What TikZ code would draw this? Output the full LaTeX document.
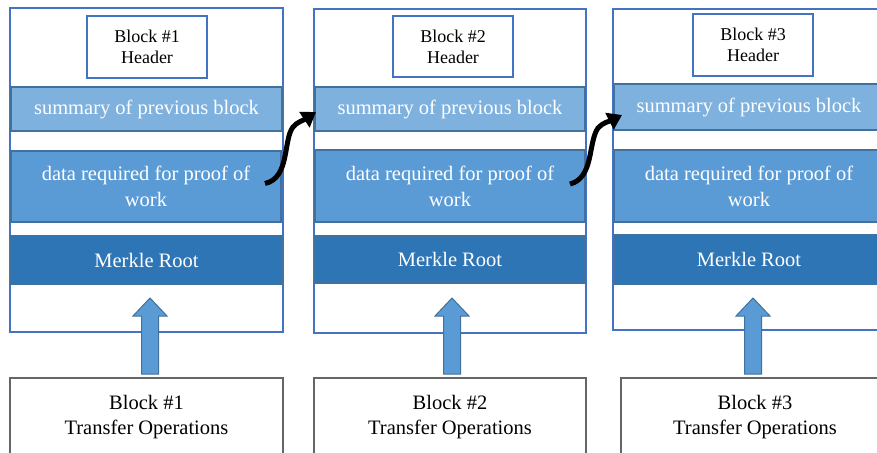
\documentclass[tikz,border=0pt]{standalone}
\usepackage{fontspec}
\setmainfont{Liberation Serif}
\usetikzlibrary{arrows.meta,calc}
\definecolor{outerblue}{HTML}{4472C4}
\definecolor{bandedge}{HTML}{41719C}
\definecolor{summfill}{HTML}{7EB1DD}
\definecolor{datafill}{HTML}{5B9BD5}
\definecolor{merkfill}{HTML}{2E75B6}
\definecolor{boxgray}{HTML}{666666}
\begin{document}
\begin{tikzpicture}[x=1pt,y=-1pt,
  blockframe/.style={draw=outerblue,line width=1.8pt,fill=white,inner sep=0pt,outer sep=0pt},
  headerbox/.style={draw=outerblue,line width=1.8pt,fill=white,inner sep=0pt,outer sep=0pt,align=center,
     font=\fontsize{18}{21}\selectfont,minimum width=120pt},
  band/.style={draw=bandedge,line width=1.2pt,inner sep=0pt,outer sep=0pt,text=white,align=center,
     font=\fontsize{20.5}{26}\selectfont},
  summband/.style={band,fill=summfill},
  databand/.style={band,fill=datafill},
  merkband/.style={band,fill=merkfill},
  txbox/.style={draw=boxgray,line width=1.8pt,fill=white,inner sep=0pt,outer sep=0pt,align=center,
     font=\fontsize{20.5}{25}\selectfont},
  uparrow/.style={draw=bandedge,fill=datafill,line width=1pt},
  chainarrow/.style={draw=black,line width=5pt,-{Triangle[length=14pt,width=18pt]}}]
\useasboundingbox (0,0) rectangle (877,452);
\clip (0,0) rectangle (877,452);

% ---------- Block 1 ----------
\node[blockframe,minimum width=273pt,minimum height=324pt] (frame1) at (146.5,170) {};
\node[headerbox,minimum height=62pt] (head1) at (147,47) {Block \#1\\Header};
\node[summband,minimum width=271pt,minimum height=44pt] (summ1) at (146.5,109) {summary of previous block};
\node[databand,minimum width=270pt,minimum height=71pt] (data1) at (146,186.5) {data required for proof of\\work};
\node[merkband,minimum width=271pt,minimum height=49pt] (merk1) at (146.5,260) {Merkle Root};
\node[txbox,minimum width=273pt,minimum height=78pt] (tx1) at (146.5,417) {Block \#1\\Transfer Operations};

% ---------- Block 2 ----------
\node[blockframe,minimum width=272pt,minimum height=324pt] (frame2) at (450,171) {};
\node[headerbox,minimum height=61pt] (head2) at (453,46.5) {Block \#2\\Header};
\node[summband,minimum width=270pt,minimum height=44pt] (summ2) at (450,109) {summary of previous block};
\node[databand,minimum width=270pt,minimum height=72pt] (data2) at (450,186) {data required for proof of\\work};
\node[merkband,minimum width=270pt,minimum height=47pt] (merk2) at (450,259.5) {Merkle Root};
\node[txbox,minimum width=272pt,minimum height=78pt] (tx2) at (450,417) {Block \#2\\Transfer Operations};

% ---------- Block 3 ----------
\node[blockframe,minimum width=272pt,minimum height=321pt] (frame3) at (749,169.5) {};
\node[headerbox,minimum height=62pt] (head3) at (753,45) {Block \#3\\Header};
\node[summband,minimum width=270pt,minimum height=46pt] (summ3) at (749,107) {summary of previous block};
\node[databand,minimum width=270pt,minimum height=72pt] (data3) at (749,186) {data required for proof of\\work};
\node[merkband,minimum width=270pt,minimum height=49pt] (merk3) at (749,259.5) {Merkle Root};
\node[txbox,minimum width=268pt,minimum height=78pt] (tx3) at (755,417) {Block \#3\\Transfer Operations};

% ---------- block arrows (transfer operations -> Merkle root) ----------
\draw[uparrow] ($(tx1.north)+(-5,-4)$) -- ++(0,-58) -- ++(-8.5,0) -- ++(17,-18) -- ++(17,18)
   -- ++(-8.5,0) -- ++(0,58) -- cycle;
\draw[uparrow] ($(tx2.north)+(-6.5,-4)$) -- ++(0,-58) -- ++(-8.5,0) -- ++(17,-18) -- ++(17,18)
   -- ++(-8.5,0) -- ++(0,58) -- cycle;
\draw[uparrow] ($(tx3.north)+(-10.5,-4)$) -- ++(0,-58) -- ++(-8.5,0) -- ++(17,-18) -- ++(17,18)
   -- ++(-8.5,0) -- ++(0,58) -- cycle;

% ---------- chain arrows ----------
\coordinate (tail1) at ($(data1.east)+(-16,-3)$);
\coordinate (tip1) at ($(summ2.west)+(1,3)$);
\draw[chainarrow] (tail1) .. controls (290,178) and (283,140) .. (293,127)
   .. controls (297,122) and (304,120) .. (tip1);
\coordinate (tail2) at ($(data2.east)+(-15,-2)$);
\coordinate (tip2) at ($(summ3.west)+(8,8)$);
\draw[chainarrow] (tail2) .. controls (594,178) and (588,142) .. (598,128)
   .. controls (602,123) and (610,121) .. (tip2);
\end{tikzpicture}
\end{document}
